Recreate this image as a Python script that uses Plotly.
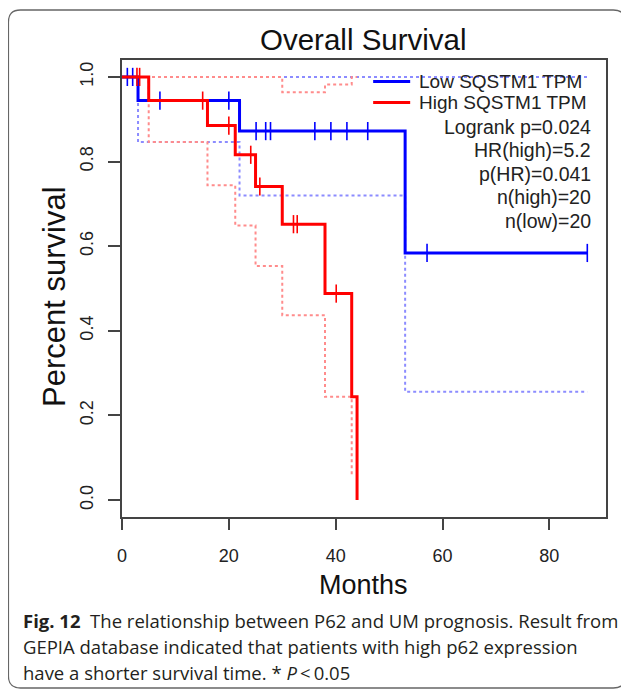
import numpy as np
import plotly.graph_objects as go

# ---- data ----
low_times = [0, 3, 22, 53, 87.1]
low_surv = [1.0, 0.944, 0.872, 0.584, 0.584]
low_censor = [1.0, 2.0, 7.1, 20.0, 25.1, 26.9, 27.8, 36.1, 39.1, 42.1, 46.0, 57.1, 87.1]
low_ci_lo_t = [0, 3, 22, 53, 87.1]
low_ci_lo = [1.0, 0.846, 0.72, 0.256, 0.256]
low_ci_hi_t = [0, 87.1]
low_ci_hi = [1.0, 1.0]

high_times = [0, 5, 16, 21.2, 25, 30, 38, 43, 44]
high_surv = [1.0, 0.944, 0.885, 0.816, 0.741, 0.652, 0.488, 0.244, 0.0]
high_censor = [2.8, 3.3, 15.1, 20.0, 24.1, 25.8, 32.1, 32.8, 40.1]
high_ci_lo_t = [0, 5, 16, 21.2, 25, 30, 38, 43]
high_ci_lo = [1.0, 0.846, 0.744, 0.649, 0.553, 0.437, 0.244, 0.055]
high_ci_hi_t = [0, 30, 38, 43, 44]
high_ci_hi = [1.0, 0.964, 0.982, 1.0, 1.0]

x_ticks = [0, 20, 40, 60, 80]
y_ticks = [0.0, 0.2, 0.4, 0.6, 0.8, 1.0]
y_tick_text = ["0.0", "0.2", "0.4", "0.6", "0.8", "1.0"]

stats_lines = ["Logrank p=0.024", "HR(high)=5.2", "p(HR)=0.041", "n(high)=20", "n(low)=20"]
legend_names = ["Low SQSTM1 TPM", "High SQSTM1 TPM"]

BLUE = "#0000FF"
RED = "#FF0000"
BLUE_CI = "#8C8CFF"
RED_CI = "#FF8C8C"


def step_at(times, surv, t):
    idx = np.searchsorted(np.array(times), t, side="right") - 1
    return [surv[i] for i in idx]


# page body has an 8px margin: screen coords = figure coords + 8
OFF = 8
W, H = 629, 691
ML, MT = 122 - OFF, 60 - OFF
PW, PH = 483.7, 457
MR = W - ML - PW
MB = H - MT - PH


def px(x):
    return (x - OFF - ML) / PW


def py(y):
    return (MT + PH - (y - OFF)) / PH


fig = go.Figure()

for t, v, c in [(low_ci_lo_t, low_ci_lo, BLUE_CI), (low_ci_hi_t, low_ci_hi, BLUE_CI),
                (high_ci_lo_t, high_ci_lo, RED_CI), (high_ci_hi_t, high_ci_hi, RED_CI)]:
    fig.add_trace(go.Scatter(x=t, y=v, mode="lines", line=dict(color=c, width=2, dash="dot", shape="hv"),
                             hoverinfo="skip", showlegend=False))

fig.add_trace(go.Scatter(x=low_times, y=low_surv, mode="lines", line=dict(color=BLUE, width=3, shape="hv"),
                         showlegend=False))
fig.add_trace(go.Scatter(x=low_censor, y=step_at(low_times, low_surv, low_censor), mode="markers",
                         marker=dict(symbol="line-ns", size=13, line=dict(color=BLUE, width=1.6)),
                         showlegend=False))
fig.add_trace(go.Scatter(x=high_times, y=high_surv, mode="lines", line=dict(color=RED, width=3, shape="hv"),
                         showlegend=False))
fig.add_trace(go.Scatter(x=high_censor, y=step_at(high_times, high_surv, high_censor), mode="markers",
                         marker=dict(symbol="line-ns", size=13, line=dict(color=RED, width=1.6)),
                         showlegend=False))

FONT = "Liberation Sans, Arial, sans-serif"
AX = "#444444"

fig.update_xaxes(range=[0, 90.6], tickvals=x_ticks, ticks="outside", ticklen=11, tickwidth=1.5,
                 tickcolor=AX, showline=True, linecolor=AX, linewidth=1.5, mirror=True,
                 showgrid=False, zeroline=False, ticklabelstandoff=11,
                 tickfont=dict(family=FONT, size=18, color="#222222"))
fig.update_yaxes(range=[-0.04, 1.04], tickvals=y_ticks, ticktext=y_tick_text, ticks="outside", ticklen=12,
                 tickwidth=1.5, tickcolor=AX, showline=True, linecolor=AX, linewidth=1.5, mirror=True,
                 showgrid=False, zeroline=False, tickangle=-90, ticklabelstandoff=8,
                 tickfont=dict(family=FONT, size=18, color="#222222"))

ann = []
ann.append(dict(text="Overall Survival", x=px(363), y=py(40), xref="paper", yref="paper", showarrow=False,
                xanchor="center", yanchor="middle", font=dict(family=FONT, size=29.5, color="#111111")))
ann.append(dict(text="Months", x=px(363), y=py(585), xref="paper", yref="paper", showarrow=False,
                xanchor="center", yanchor="middle", font=dict(family=FONT, size=27, color="#111111")))
ann.append(dict(text="Percent survival", x=px(54), y=py(296), xref="paper", yref="paper", showarrow=False,
                textangle=-90, xanchor="center", yanchor="middle",
                font=dict(family=FONT, size=31, color="#111111")))

# legend
shapes = []
for name, col, yy in [(legend_names[0], BLUE, 81.5), (legend_names[1], RED, 102.5)]:
    shapes.append(dict(type="line", xref="paper", yref="paper", x0=px(373), x1=px(410), y0=py(yy), y1=py(yy),
                       line=dict(color=col, width=3)))
    ann.append(dict(text=name, x=px(417), y=py(yy), xref="paper", yref="paper", showarrow=False,
                    xanchor="left", yanchor="middle", font=dict(family=FONT, size=19, color="#222222")))

for i, s in enumerate(stats_lines):
    ann.append(dict(text=s, x=px(593), y=py(126.5 + 23.6 * i), xref="paper", yref="paper", showarrow=False,
                    xanchor="right", yanchor="middle", font=dict(family=FONT, size=19.5, color="#222222")))

# caption
CAP = "Open Sans, Noto Sans, sans-serif"
cap_lines = ["<b>Fig. 12</b>  The relationship between P62 and UM prognosis. Result from",
             "GEPIA database indicated that patients with high p62 expression",
             "have a shorter survival time. * <i>P</i>\u2009<\u20090.05"]
for i, s in enumerate(cap_lines):
    ann.append(dict(text=s, x=px(21), y=py(620 + 26 * i), xref="paper", yref="paper", showarrow=False,
                    xanchor="left", yanchor="middle", font=dict(family=CAP, size=18.5, color="#231F20")))

# rounded frame around figure
x0, x1, y0, y1, r = px(8.5), px(625), py(10), py(688), 12
rx, ry = r / PW, r / PH
path = (f"M {x0 + rx} {y0} L {x1 - rx} {y0} Q {x1} {y0} {x1} {y0 - ry} "
        f"L {x1} {y1 + ry} Q {x1} {y1} {x1 - rx} {y1} L {x0 + rx} {y1} Q {x0} {y1} {x0} {y1 + ry} "
        f"L {x0} {y0 - ry} Q {x0} {y0} {x0 + rx} {y0} Z")
shapes.append(dict(type="path", xref="paper", yref="paper", path=path, line=dict(color="#666666", width=1.3)))

fig.update_layout(width=W, height=H, margin=dict(l=ML, r=MR, t=MT, b=MB, autoexpand=False),
                  paper_bgcolor="white", plot_bgcolor="white", annotations=ann, shapes=shapes,
                  showlegend=False)

fig.write_html("out.html")
